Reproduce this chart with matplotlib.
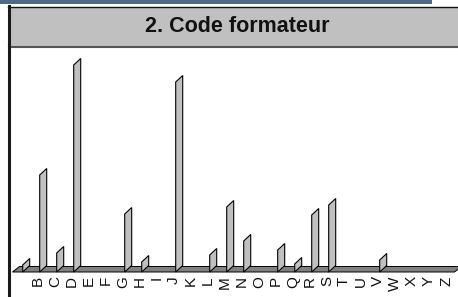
import matplotlib
matplotlib.use("Agg")
import matplotlib.pyplot as plt
from matplotlib.patches import Polygon, Rectangle
from matplotlib.lines import Line2D

# ---- data ----
categories = list("ABCDEFGHIJKLMNOPQRSTUVWXYZ")
tick_labels = [""] + list("BCDEFGHIJKLMNOPQRSTUVWXYZ")
values = [7, 97, 19, 207, 0, 0, 58, 10, 0, 190, 0, 17, 65, 31, 0,
          22, 8, 57, 67, 0, 0, 12, 0, 0, 0, 0]
title = "2. Code formateur"

W, H = 458, 297
fig = plt.figure(figsize=(W / 100, H / 100), dpi=100)
fig.patch.set_facecolor("white")


def fx(p):
    return p / W


def fy(p):
    return 1 - p / H


# ---- frame decorations ----
fig.patches.append(Rectangle((0, fy(3.5)), fx(432), 3.5 / H, transform=fig.transFigure,
                             facecolor="#506a85", edgecolor="none"))
fig.patches.append(Rectangle((fx(9), fy(47)), 1, (47 - 6.5) / H, transform=fig.transFigure,
                             facecolor="#c0c0c0", edgecolor="none"))
fig.lines.append(Line2D([fx(8), 1], [fy(6.7)] * 2, transform=fig.transFigure,
                        color="#111111", lw=1.0))
fig.lines.append(Line2D([fx(9), 1], [fy(47)] * 2, transform=fig.transFigure,
                        color="#555555", lw=1.5))
fig.lines.append(Line2D([fx(8.8)] * 2, [fy(6), 0], transform=fig.transFigure,
                        color="#1a1a1a", lw=2.2))
fig.text(fx(237), fy(27), title, ha="center", va="center", fontsize=15.5,
         fontweight="bold", family="Liberation Sans", color="#111111")

# ---- plot area ----
ax = fig.add_axes([fx(12.5), fy(272), (454.5 - 12.5) / W, 220 / H])
ax.set_xlim(-0.5, len(categories) - 0.5)
ax.set_ylim(0, 220)
ax.patch.set_visible(False)
for s in ax.spines.values():
    s.set_visible(False)

dx = 7 / 17.0   # depth offset in category units
dy_floor = 5.5  # depth offset in value units
dy_bar = 6.5

floor = Polygon([(-0.5, 0), (len(categories) - 0.5, 0),
                 (len(categories) - 0.5 + dx, dy_floor), (-0.5 + dx, dy_floor)],
                closed=True, facecolor="#808080", edgecolor="black", lw=0.7,
                clip_on=False, zorder=2)
ax.add_patch(floor)

for i, v in enumerate(values):
    if v <= 0:
        continue
    x = i + 0.1
    poly = Polygon([(x, 0), (x, v), (x + dx, v + dy_bar), (x + dx, dy_bar)],
                   closed=True, facecolor="#c0c0c0", edgecolor="black", lw=0.8,
                   clip_on=False, zorder=3)
    ax.add_patch(poly)

ax.set_xticks(range(len(categories)))
ax.set_xticklabels(tick_labels, rotation=90, fontsize=11, family="Liberation Sans",
                   color="#111111")
ax.tick_params(axis="x", length=0, pad=3)
ax.set_yticks([])

fig.savefig("out.png", dpi=100, facecolor="white")
